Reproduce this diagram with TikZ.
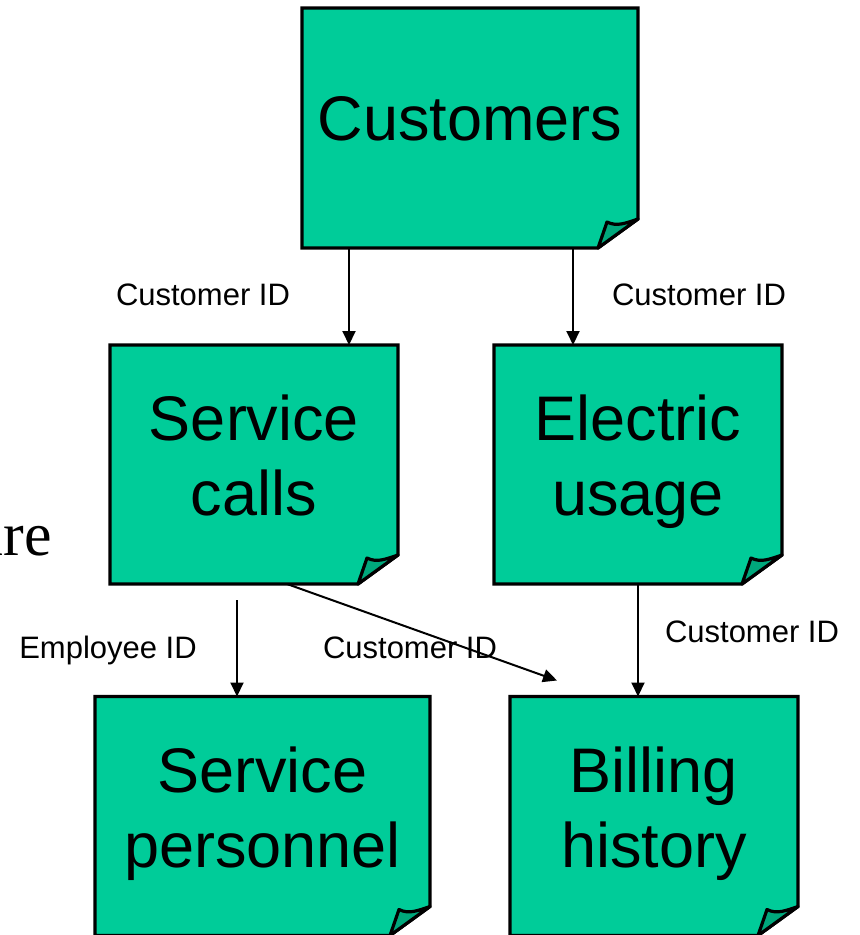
\documentclass[tikz,border=0pt]{standalone}
\usepackage{fontspec}
\setmainfont{Liberation Sans}
\newfontfamily\slideserif{Liberation Serif}
\usetikzlibrary{positioning,arrows.meta,calc,backgrounds}
\definecolor{notegreen}{RGB}{0,204,153}
\definecolor{folddark}{RGB}{0,168,124}

\begin{document}
\begin{tikzpicture}[
  x=0.5pt, y=-0.5pt,
  %% sticky-note table box (outline drawn behind)  \node[note=<width>]
  note/.style={
    rectangle, minimum width=#1, minimum height=119.5pt,
    align=center, inner sep=0pt, outer sep=0pt, text depth=9pt,
    font=\fontsize{31.5}{37.5}\selectfont
  },
  note/.default=144pt,
  %% page with cut corner / curled-up corner
  page/.style={draw=black, line width=1.6pt, fill=notegreen, line join=miter},
  fold/.style={draw=black, line width=1.6pt, fill=folddark, line join=round},
  %% key label beside a link
  key/.style={font=\fontsize{15.5}{18}\selectfont, anchor=base, inner sep=0pt},
  arr/.style={-{Triangle[length=7pt,width=6.5pt]}, line width=1pt},
]
\useasboundingbox (0,0) rectangle (859,935);
\clip (0,0) rectangle (859,935);

%%── Left-over slide text ────────────────────────────────────────────────────
\node[font=\slideserif\fontsize{31}{36}\selectfont, anchor=base east,
      inner sep=0pt] (ure) at (52,555) {ure};

%%── Tables ──────────────────────────────────────────────────────────────────
\node[note=168pt, minimum height=120pt] (cust) at (470,128) {Customers};
\node[note] (serv) at (254,464.5) {Service\\calls};
\node[note] (elec) at (638,464.5) {Electric\\usage};
\node[note=167.5pt] (pers) at (262.5,816) {Service\\personnel};
\node[note] (bill) at (654,816) {Billing\\history};

%%── Note pages and curled corners ───────────────────────────────────────────
\begin{scope}[on background layer]
  \foreach \n in {cust,serv,elec,pers,bill}
    \draw[page] (\n.north west) -- (\n.north east)
      -- ($(\n.south east)+(0,14.5pt)$) -- ($(\n.south east)+(-20pt,0)$)
      -- (\n.south west) -- cycle;
\end{scope}
\foreach \n in {cust,serv,elec,pers,bill}
  \draw[fold] ($(\n.south east)+(-20pt,0)$) -- ++(4.5pt,13pt)
    .. controls +(5pt,-2.5pt) and +(-6pt,-2pt) ..
    ($(\n.south east)+(0,14.5pt)$) -- cycle;

%%── Links ───────────────────────────────────────────────────────────────────
\coordinate (cs) at ([xshift=-60.5pt]cust.south);
\coordinate (ce) at ([xshift=51.5pt]cust.south);
\coordinate (sp) at ([xshift=-8.5pt,yshift=-8pt]serv.south);
\coordinate (sb) at ([xshift=16.5pt]serv.south);
\coordinate (bt) at ([xshift=-48.5pt,yshift=8pt]bill.north);

\draw[arr] (cs) -- (cs |- serv.north);
\draw[arr] (ce) -- (ce |- elec.north);
\draw[arr] (sp) -- (sp |- pers.north);
\draw[arr] (sb) -- (bt);
\draw[arr] (elec.south) -- (elec.south |- bill.north);

%%── Key labels ──────────────────────────────────────────────────────────────
\node[key] (k1) at (203,306) {Customer ID};
\node[key] (k2) at (699,306) {Customer ID};
\node[key] (k3) at (108,658) {Employee ID};
\node[key] (k4) at (410,658) {Customer ID};
\node[key] (k5) at (752,642) {Customer ID};

\end{tikzpicture}
\end{document}
